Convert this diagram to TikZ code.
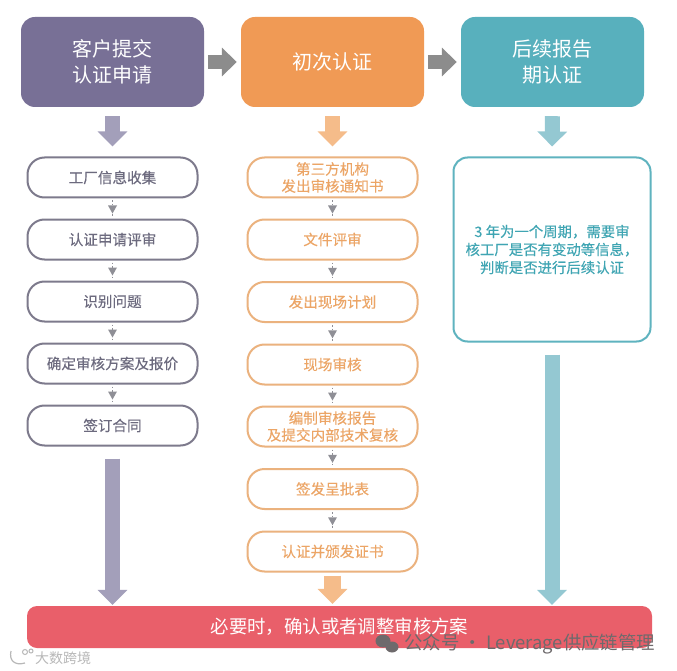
\documentclass[tikz,border=0pt]{standalone}
\usepackage{fontspec}
\setmainfont{Noto Sans CJK SC}
\newfontfamily\medcjk[FakeBold=0.25]{Noto Sans CJK SC}
\usetikzlibrary{arrows.meta,decorations.markings}
\definecolor{cpurple}{HTML}{787096}
\definecolor{corange}{HTML}{F09A55}
\definecolor{cteal}{HTML}{58B0BD}
\definecolor{cred}{HTML}{E95F6A}
\definecolor{apurple}{HTML}{A39FBA}
\definecolor{aorange}{HTML}{F5BC8A}
\definecolor{ateal}{HTML}{94C8D2}
\definecolor{agray}{HTML}{8C8C8C}
\definecolor{sgray}{HTML}{8F8F96}
\definecolor{bpurple}{HTML}{7D7A8C}
\definecolor{tpurple}{HTML}{6C6A7E}
\definecolor{borange}{HTML}{EBB27E}
\definecolor{torange}{HTML}{ECA566}
\definecolor{bteal}{HTML}{5FB3BF}
\definecolor{tteal}{HTML}{3FA5B3}
\definecolor{wm}{HTML}{6E6A6C}
\tikzset{
  x=1pt,y=-1pt,
  header/.style={draw=none,fill=#1,rounded corners=14pt,minimum width=183pt,minimum height=90pt,
    text=white,align=center,font=\fontsize{20}{26}\selectfont,inner sep=0pt},
  stepbase/.style={fill=white,rounded corners=17pt,minimum width=170pt,minimum height=40pt,
    align=center,font=\medcjk\fontsize{14.6}{17}\selectfont,inner sep=0pt,line width=2pt},
  stepp/.style={stepbase,draw=bpurple,text=tpurple},
  stepo/.style={stepbase,draw=borange,text=torange},
  small/.style={draw=sgray,line width=0.9pt,dash pattern=on 1.5pt off 2pt,shorten <=2pt,shorten >=2pt,
    postaction={decorate},decoration={markings,mark=at position 0.55 with {\fill[sgray] (-4pt,-4.5pt) -- (-4pt,4.5pt) -- (4pt,0pt) -- cycle;}}},
  fat/.style={draw=#1,line width=15pt,-{Triangle[length=15pt,width=29pt,fill=#1]}},
  fathoriz/.style={draw=agray,line width=14pt,shorten <=4pt,shorten >=4pt,-{Triangle[length=15pt,width=28pt,fill=agray]}},
}
\begin{document}
\begin{tikzpicture}
\useasboundingbox (0,0) rectangle (677,671);
\fill[white] (0,0) rectangle (677,671);
% headers
\node[header=cpurple] (h1) at (112.5,62) {客户提交\\认证申请};
\node[header=corange] (h2) at (332.5,62) {初次认证};
\node[header=cteal] (h3) at (552.5,62) {后续报告\\期认证};
\draw[fathoriz] (h1) -- (h2);
\draw[fathoriz] (h2) -- (h3);
% column 1
\node[stepp] (a1) at (112.5,177.5) {工厂信息收集};
\node[stepp] (a2) at (112.5,239.5) {认证申请评审};
\node[stepp] (a3) at (112.5,301.5) {识别问题};
\node[stepp] (a4) at (112.5,363.5) {确定审核方案及报价};
\node[stepp] (a5) at (112.5,425.5) {签订合同};
% column 2
\node[stepo] (b1) at (332.5,177.5) {第三方机构\\发出审核通知书};
\node[stepo] (b2) at (332.5,239.5) {文件评审};
\node[stepo] (b3) at (332.5,302) {发出现场计划};
\node[stepo] (b4) at (332.5,364.5) {现场审核};
\node[stepo] (b5) at (332.5,426.5) {编制审核报告\\及提交内部技术复核};
\node[stepo] (b6) at (332.5,489) {签发呈批表};
\node[stepo] (b7) at (332.5,551.5) {认证并颁发证书};
% column 3
\node[draw=bteal,line width=2pt,fill=white,rounded corners=14pt,minimum width=197pt,minimum height=184pt,
  text=tteal,align=center,inner sep=0pt,font=\medcjk\fontsize{14.4}{18}\selectfont] (c1) at (552,249.5)
  {3 年为一个周期，需要审\\核工厂是否有变动等信息，\\判断是否进行后续认证};
% bottom bar
\node[fill=cred,rounded corners=10pt,minimum width=625pt,minimum height=42pt,text=white,inner sep=0pt,
  font=\fontsize{18.4}{22}\selectfont] (bar) at (339.5,627) {必要时，确认或者调整审核方案};
% small connectors
\foreach \p/\q in {a1/a2,a2/a3,a3/a4,a4/a5,b1/b2,b2/b3,b3/b4,b4/b5,b5/b6,b6/b7}
  \draw[small] (\p.south) -- (\q.north);
% big arrows
\draw[fat=apurple,shorten <=9pt,shorten >=10pt] (h1.south) -- (a1.north);
\draw[fat=aorange,shorten <=9pt,shorten >=10pt] (h2.south) -- (b1.north);
\draw[fat=ateal,shorten <=9pt,shorten >=10pt] (h3.south) -- (c1.north);
\draw[fat=apurple,shorten <=12pt,shorten >=1pt] (a5.south) -- (a5.south |- bar.north);
\draw[fat=aorange,line width=17pt,shorten <=3pt,shorten >=2pt] (b7.south) -- (b7.south |- bar.north);
\draw[fat=ateal,shorten <=12pt,shorten >=1pt] (c1.south) -- (c1.south |- bar.north);
% watermarks
\fill[wm] (383,641) ellipse [x radius=7.5pt,y radius=6.5pt];
\fill[wm] (392,647) ellipse [x radius=6.5pt,y radius=5.5pt];
\node[text=wm,anchor=west,inner sep=0pt,font=\fontsize{18.4}{22}\selectfont] (wmk) at (404,644) {公众号 · Leverage供应链管理};
\node[text=white!72!black,anchor=west,inner sep=0pt,font=\fontsize{14}{16}\selectfont] (wml) at (35,658) {大数跨境};
\draw[white!72!black,line width=1.2pt] (11,651) .. controls (9,660) and (14,666) .. (25,663);
\draw[white!72!black,line width=1pt] (25,652) circle (2.5pt) (31,651) circle (2pt);
\end{tikzpicture}
\end{document}
